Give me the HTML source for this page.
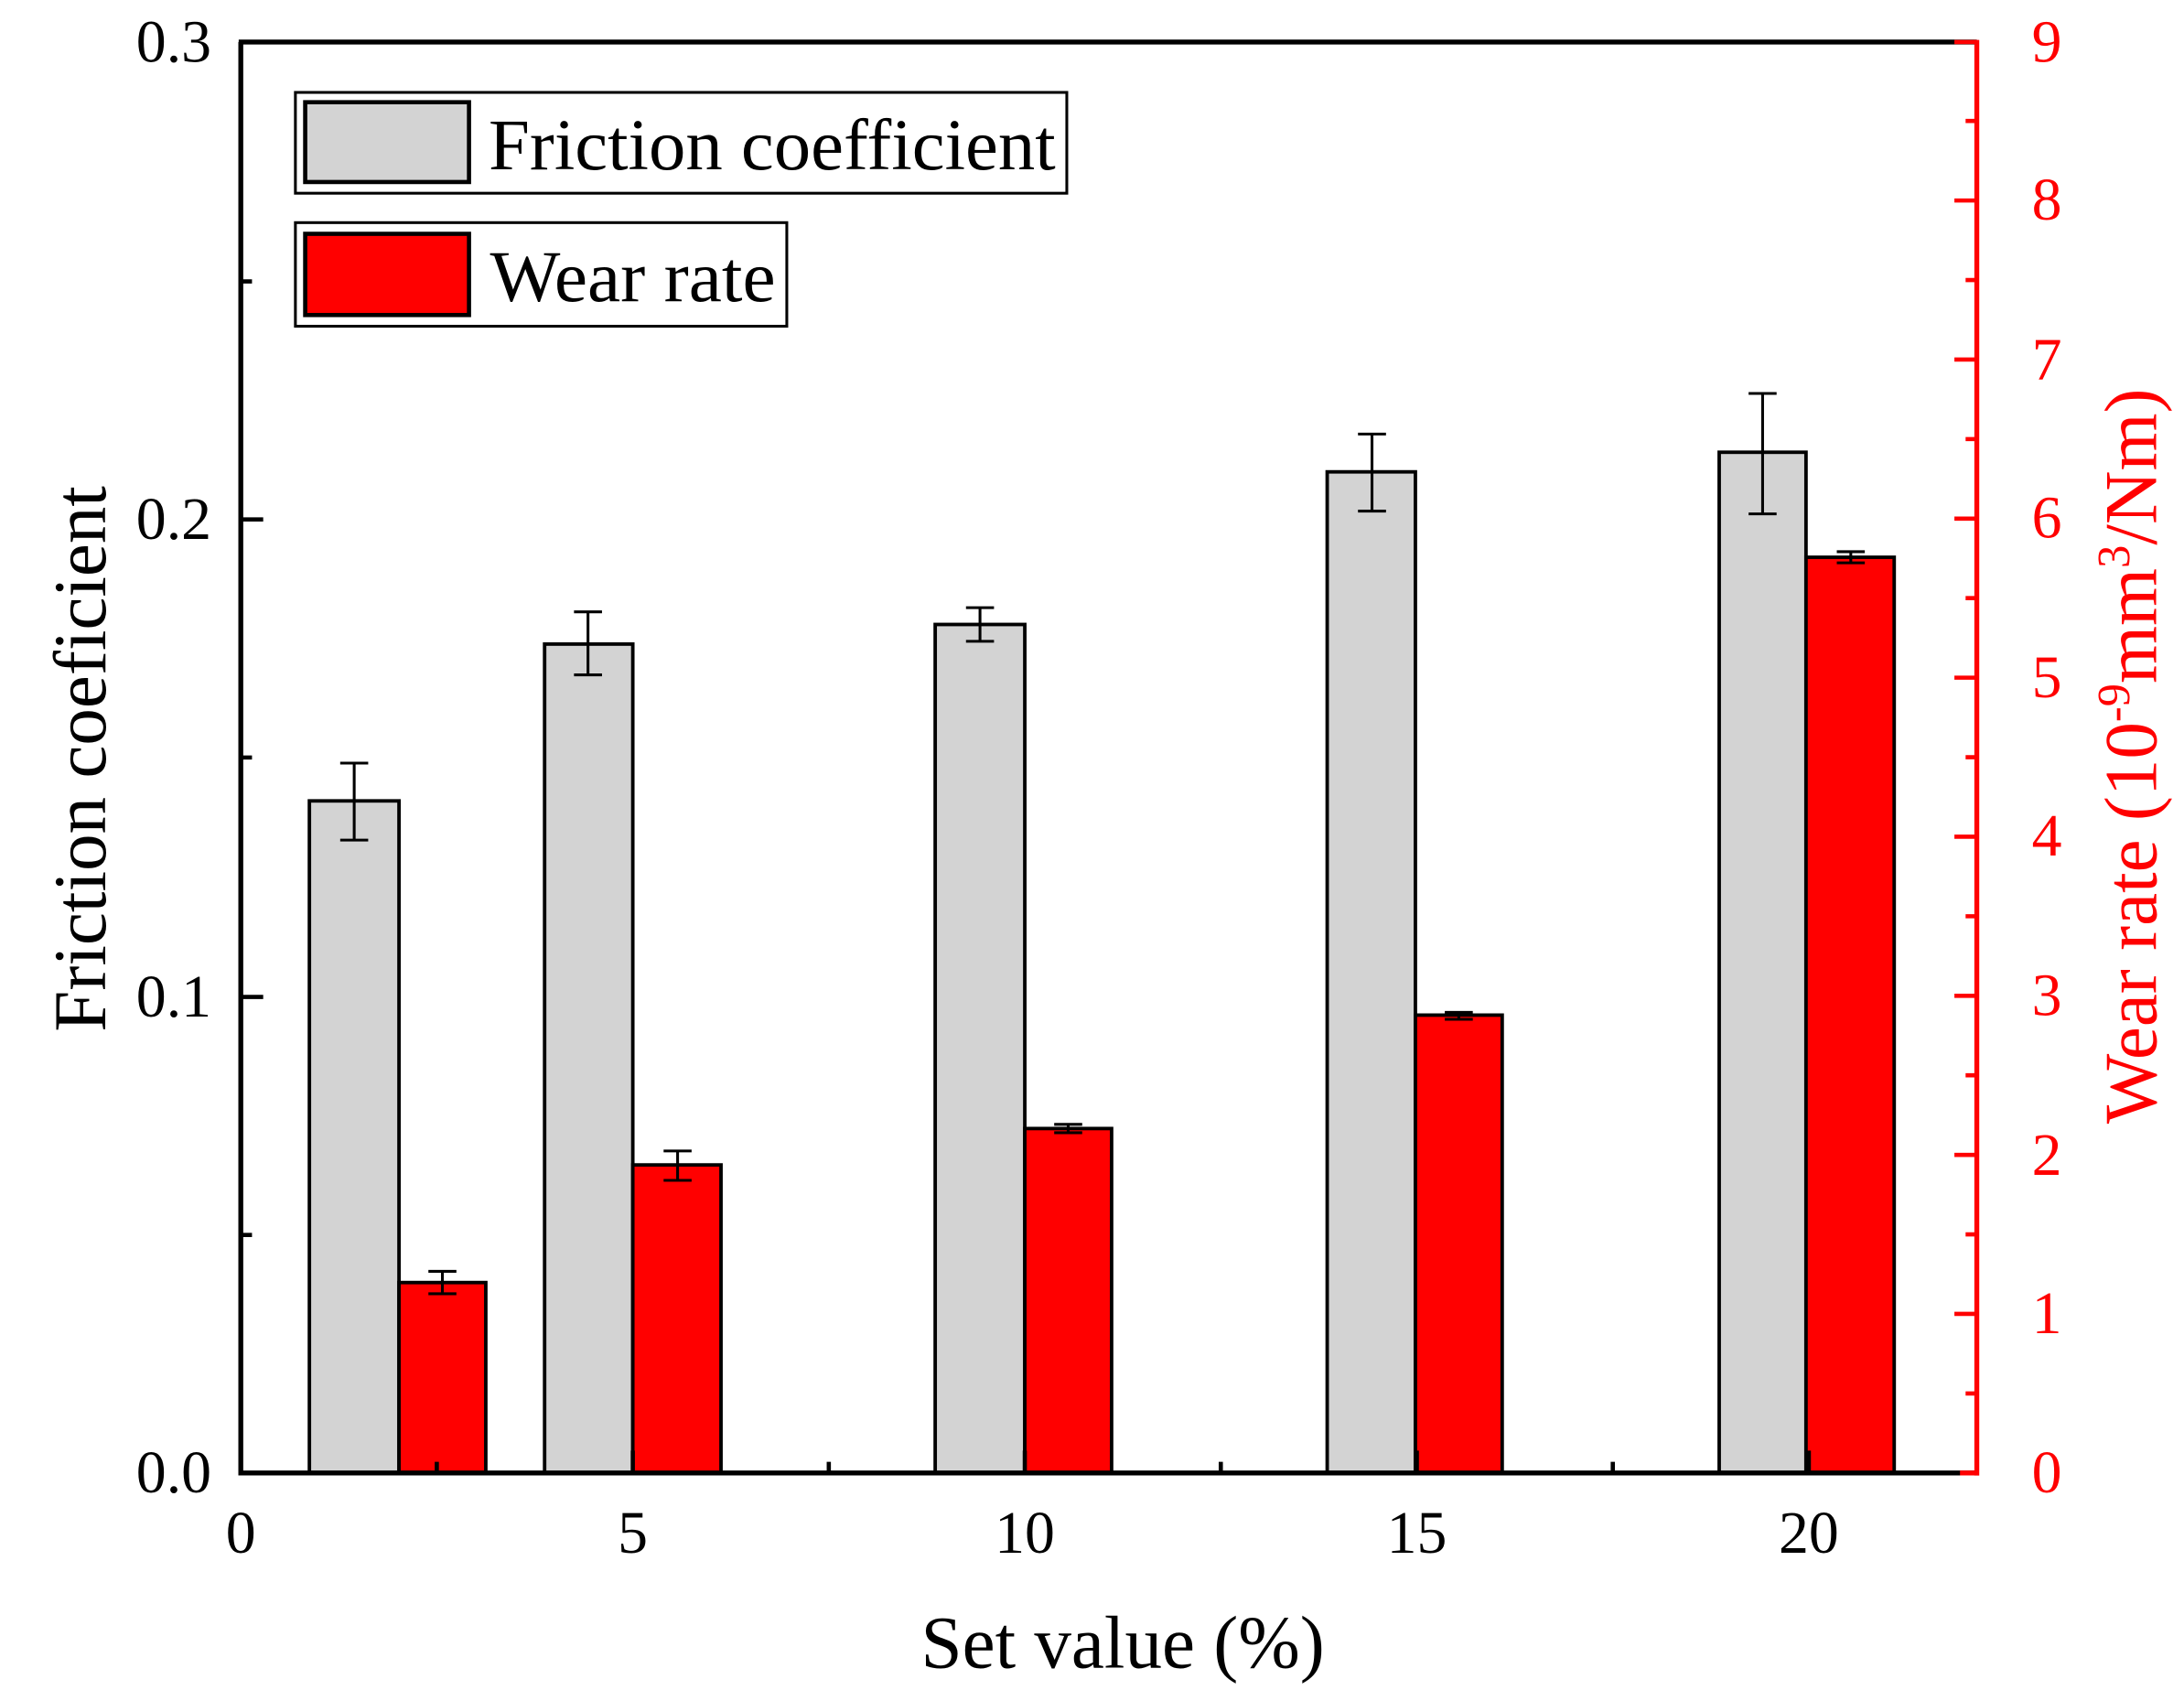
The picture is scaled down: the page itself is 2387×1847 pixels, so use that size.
<!DOCTYPE html>
<html><head><meta charset="utf-8"><style>html,body{margin:0;padding:0;background:#fff}svg{display:block}</style></head>
<body>
<svg width="2387" height="1847" viewBox="0 0 1560 1207" preserveAspectRatio="none" xmlns="http://www.w3.org/2000/svg" font-family="Liberation Serif, serif">
<rect width="1560" height="1207" fill="#fff"/>
<g stroke="#000" stroke-width="2.5">
<rect x="221" y="572" width="64" height="480" fill="#d3d3d3"/>
<rect x="285" y="916" width="62" height="136" fill="#f00"/>
<rect x="389" y="460" width="63" height="592" fill="#d3d3d3"/>
<rect x="452" y="832" width="63" height="220" fill="#f00"/>
<rect x="668" y="446" width="64" height="606" fill="#d3d3d3"/>
<rect x="732" y="806" width="62" height="246" fill="#f00"/>
<rect x="948" y="337" width="63" height="715" fill="#d3d3d3"/>
<rect x="1011" y="725" width="62" height="327" fill="#f00"/>
<rect x="1228" y="323" width="62" height="729" fill="#d3d3d3"/>
<rect x="1290" y="398" width="63" height="654" fill="#f00"/>
</g>
<g stroke="#000" stroke-width="2">
<path d="M253 545V600M243 545H263M243 600H263"/>
<path d="M420 437V482M410 437H430M410 482H430"/>
<path d="M700 434V458M690 434H710M690 458H710"/>
<path d="M980 310V365M970 310H990M970 365H990"/>
<path d="M1259 281V367M1249 281H1269M1249 367H1269"/>
<path d="M316 908V924M306 908H326M306 924H326"/>
<path d="M484 822V843M474 822H494M474 843H494"/>
<path d="M763 803V809M753 803H773M753 809H773"/>
<path d="M1042 723V728M1032 723H1052M1032 728H1052"/>
<path d="M1322 394V402M1312 394H1332M1312 402H1332"/>
</g>
<path d="M172 30V1052H1412" fill="none" stroke="#000" stroke-width="3.5"/>
<path d="M170.5 30H1412" stroke="#000" stroke-width="3.5"/>
<path d="M1412 28.5V1053.8" stroke="#f00" stroke-width="3.5"/>
<path d="M1400 1052H1413" stroke="#f00" stroke-width="3.5"/>
<g stroke="#000" stroke-width="3">
<path d="M172 712H188M172 371H188M172 30H188M172 882H180M172 541H180M172 201H180"/>
<path d="M452 1052V1036M732 1052V1036M1012 1052V1036M1292 1052V1036M312 1052V1044M592 1052V1044M872 1052V1044M1152 1052V1044"/>
</g>
<g stroke="#f00" stroke-width="3">
<path d="M1412 938.4H1396M1412 824.8H1396M1412 711.2H1396M1412 597.6H1396M1412 484H1396M1412 370.4H1396M1412 256.8H1396M1412 143.2H1396M1412 30H1396"/>
<path d="M1412 995.2H1404M1412 881.6H1404M1412 768H1404M1412 654.4H1404M1412 540.8H1404M1412 427.2H1404M1412 313.6H1404M1412 200H1404M1412 86.4H1404"/>
</g>
<g font-size="43" text-anchor="end" fill="#000">
<text x="151" y="1066">0.0</text><text x="151" y="726">0.1</text><text x="151" y="385">0.2</text><text x="151" y="44">0.3</text>
</g>
<g font-size="43" text-anchor="middle" fill="#000">
<text x="172" y="1109">0</text><text x="452" y="1109">5</text><text x="732" y="1109">10</text><text x="1012" y="1109">15</text><text x="1292" y="1109">20</text>
</g>
<g font-size="43" text-anchor="middle" fill="#f00">
<text x="1462" y="1066">0</text><text x="1462" y="952">1</text><text x="1462" y="839">2</text><text x="1462" y="725">3</text><text x="1462" y="611">4</text><text x="1462" y="498">5</text><text x="1462" y="384">6</text><text x="1462" y="271">7</text><text x="1462" y="157">8</text><text x="1462" y="44">9</text>
</g>
<text x="802" y="1191" font-size="53" text-anchor="middle">Set value (%)</text>
<text transform="translate(75,542) rotate(-90)" font-size="53" text-anchor="middle">Friction coeficient</text>
<text transform="translate(1540,540) rotate(-90)" font-size="53" text-anchor="middle" fill="#f00">Wear rate (10<tspan font-size="33" dy="-19">-9</tspan><tspan dy="19">mm</tspan><tspan font-size="33" dy="-19">3</tspan><tspan dy="19">/Nm)</tspan></text>
<rect x="211" y="66" width="551" height="72" fill="#fff" stroke="#000" stroke-width="2"/>
<rect x="218" y="73" width="117" height="57" fill="#d3d3d3" stroke="#000" stroke-width="3"/>
<text x="349" y="121" font-size="52" textLength="405" lengthAdjust="spacingAndGlyphs">Friction coefficient</text>
<rect x="211" y="159" width="351" height="74" fill="#fff" stroke="#000" stroke-width="2"/>
<rect x="218" y="167" width="117" height="58" fill="#f00" stroke="#000" stroke-width="3"/>
<text x="350" y="215" font-size="52" textLength="204" lengthAdjust="spacingAndGlyphs">Wear rate</text>
</svg>
</body></html>
